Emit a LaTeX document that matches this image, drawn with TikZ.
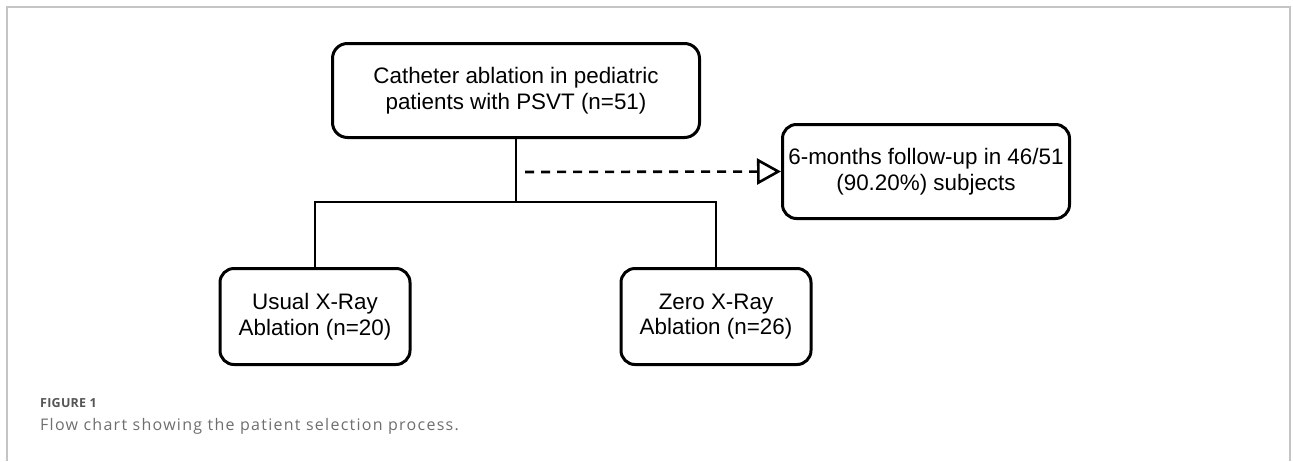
\documentclass[tikz,border=0pt]{standalone}
\usepackage{fontspec}
\setmainfont{Liberation Sans}
\newfontfamily\capfont[LetterSpace=8]{Open Sans}
\newfontfamily\figfont[LetterSpace=2]{Open Sans}
\usepackage{tikz}
\usetikzlibrary{arrows.meta,positioning,calc}
\definecolor{Frame}{HTML}{C4C4C4}
\definecolor{CapGray}{HTML}{555555}
\definecolor{CapText}{HTML}{6E6E6E}

\begin{document}
\begin{tikzpicture}[x=1pt,y=-1pt,font=\fontsize{22.4}{25.5}\selectfont,every node/.style={align=center},
  box/.style={draw,line width=3pt,rounded corners=14pt,inner sep=0pt},
  link/.style={line width=2.6pt}]
  \useasboundingbox (0,0) rectangle (1293,461);
  \draw[Frame,line width=2pt] (7,461) -- (7,7) -- (1290,7) -- (1290,461);
  \node[box,rounded corners=15pt,minimum width=367pt,minimum height=94pt] (cath) at (516,90.5) {Catheter ablation in pediatric\\patients with PSVT (n=51)};
  \node[box,minimum width=287pt,minimum height=94pt] (follow) at (926,171.5) {6-months follow-up in 46/51\\(90.20\%) subjects};
  \node[box,minimum width=190pt,minimum height=96pt] (usual) at (315,316.5) {Usual X-Ray\\Ablation (n=20)};
  \node[box,minimum width=190pt,minimum height=96pt] (zero) at (716,316.5) {Zero X-Ray\\Ablation (n=26)};
  \coordinate (fork) at (516,202);
  \coordinate (dash0) at (525,172);
  \draw[link] (cath) -- (fork);
  \draw[link] (usual.north) |- (fork) -| (zero.north);
  \draw[link,dash pattern=on 9pt off 7pt,-{Triangle[open,length=24pt,width=26pt,line width=2.6pt]}] (dash0) -- (follow.west);
  \node[anchor=base west,inner sep=0pt,text=CapGray,font=\figfont\bfseries\fontsize{12.5}{14}\selectfont] (fig) at (40,407) {FIGURE 1};
  \node[anchor=base west,inner sep=0pt,text=CapText,font=\capfont\fontsize{16}{18}\selectfont] (cap) at (40,430) {Flow chart showing the patient selection process.};
\end{tikzpicture}
\end{document}
